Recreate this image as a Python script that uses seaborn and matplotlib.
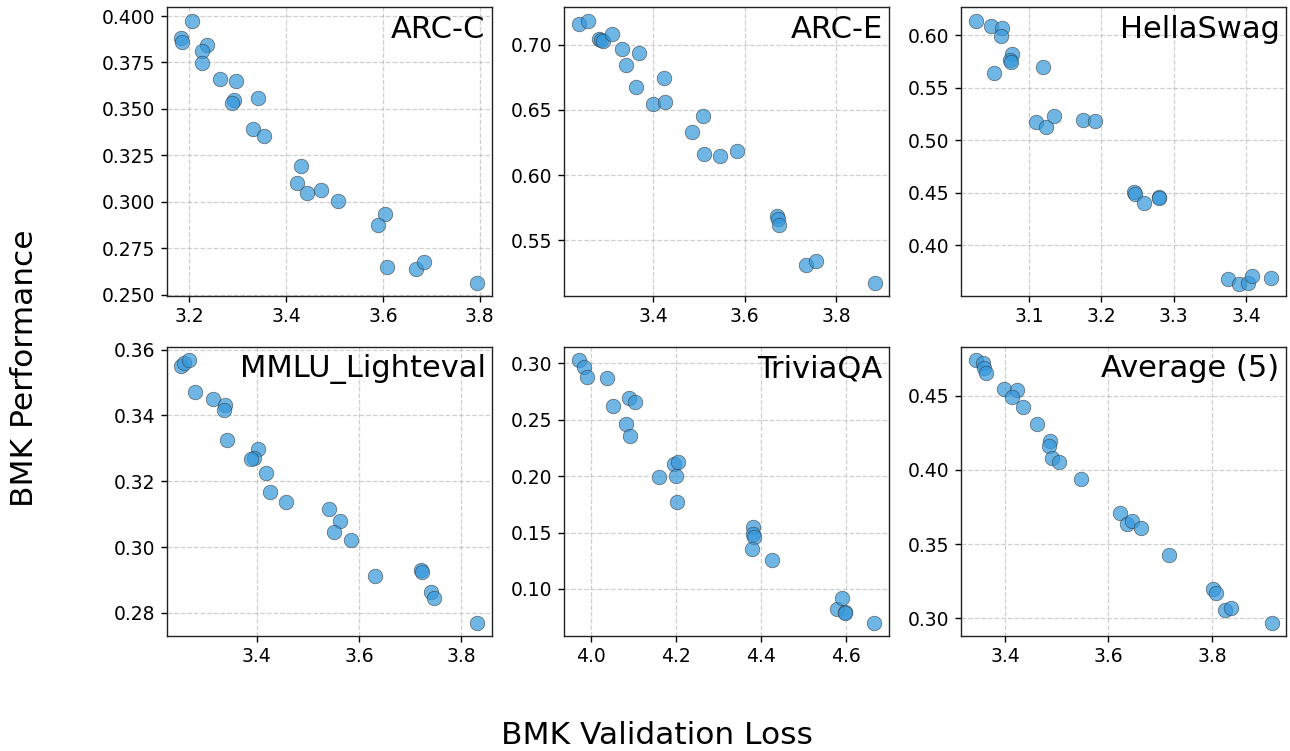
import matplotlib
matplotlib.use("Agg")
import matplotlib.pyplot as plt
import seaborn as sns
import pandas as pd

sns.set_style("ticks")
plt.rcParams['font.family'] = ['DejaVu Sans']
plt.rcParams['text.color'] = 'black'
plt.rcParams['xtick.color'] = 'black'
plt.rcParams['ytick.color'] = 'black'
plt.rcParams['xtick.labelcolor'] = 'black'
plt.rcParams['ytick.labelcolor'] = 'black'

titles = ["ARC-C", "ARC-E", "HellaSwag", "MMLU_Lighteval", "TriviaQA", "Average (5)"]

arcc_loss = [3.205, 3.183, 3.184, 3.237, 3.225, 3.226, 3.263, 3.297, 3.292, 3.288, 3.341, 3.332,
             3.355, 3.430, 3.423, 3.443, 3.473, 3.508, 3.605, 3.590, 3.608, 3.669, 3.685, 3.795]
arcc_perf = [0.3975, 0.3880, 0.3862, 0.3844, 0.3812, 0.3747, 0.3660, 0.3652, 0.3548, 0.3530, 0.3557, 0.3394,
             0.3353, 0.3190, 0.3099, 0.3047, 0.3066, 0.3005, 0.2937, 0.2875, 0.2647, 0.2638, 0.2674, 0.2561]

arce_loss = [3.238, 3.258, 3.281, 3.286, 3.290, 3.311, 3.333, 3.340, 3.370, 3.363, 3.399, 3.423,
             3.426, 3.510, 3.484, 3.512, 3.546, 3.583, 3.670, 3.674, 3.676, 3.735, 3.757, 3.884]
arce_perf = [0.7156, 0.7184, 0.7041, 0.7036, 0.7030, 0.7084, 0.6969, 0.6847, 0.6934, 0.6673, 0.6546, 0.6747,
             0.6561, 0.6452, 0.6329, 0.6161, 0.6143, 0.6181, 0.5689, 0.5666, 0.5617, 0.5309, 0.5344, 0.5171]

hella_loss = [3.026, 3.047, 3.063, 3.061, 3.077, 3.074, 3.075, 3.052, 3.119, 3.110, 3.124, 3.134,
              3.175, 3.191, 3.245, 3.246, 3.259, 3.280, 3.280, 3.375, 3.391, 3.403, 3.408, 3.435]
hella_perf = [0.6137, 0.6092, 0.6070, 0.5994, 0.5825, 0.5762, 0.5749, 0.5638, 0.5698, 0.5175, 0.5130, 0.5232,
              0.5190, 0.5184, 0.4502, 0.4489, 0.4403, 0.4457, 0.4451, 0.3673, 0.3632, 0.3638, 0.3705, 0.3683]

mmlu_loss = [3.252, 3.258, 3.268, 3.279, 3.314, 3.338, 3.336, 3.341, 3.402, 3.395, 3.389, 3.418,
             3.425, 3.457, 3.542, 3.563, 3.551, 3.585, 3.632, 3.722, 3.724, 3.741, 3.746, 3.831]
mmlu_perf = [0.3551, 0.3559, 0.3568, 0.3472, 0.3451, 0.3431, 0.3417, 0.3325, 0.3298, 0.3272, 0.3267, 0.3224,
             0.3168, 0.3137, 0.3115, 0.3078, 0.3046, 0.3021, 0.2912, 0.2932, 0.2925, 0.2865, 0.2846, 0.2769]

trivia_loss = [3.972, 3.984, 3.991, 4.038, 4.052, 4.090, 4.103, 4.083, 4.091, 4.196, 4.204, 4.201,
               4.160, 4.203, 4.382, 4.382, 4.385, 4.380, 4.427, 4.580, 4.592, 4.598, 4.599, 4.666]
trivia_perf = [0.3030, 0.2964, 0.2876, 0.2873, 0.2621, 0.2689, 0.2657, 0.2464, 0.2352, 0.2109, 0.2124, 0.1997,
               0.1988, 0.1775, 0.1550, 0.1485, 0.1464, 0.1358, 0.1257, 0.0822, 0.0917, 0.0796, 0.0790, 0.0695]

avg_loss = [3.343, 3.358, 3.359, 3.364, 3.398, 3.423, 3.414, 3.434, 3.461, 3.487, 3.486, 3.490,
            3.505, 3.546, 3.623, 3.635, 3.645, 3.662, 3.717, 3.803, 3.808, 3.825, 3.837, 3.916]
avg_perf = [0.4743, 0.4720, 0.4689, 0.4653, 0.4545, 0.4540, 0.4491, 0.4424, 0.4309, 0.4196, 0.4158, 0.4077,
            0.4050, 0.3936, 0.3711, 0.3637, 0.3654, 0.3609, 0.3425, 0.3198, 0.3169, 0.3056, 0.3068, 0.2969]

xticks = [[3.2, 3.4, 3.6, 3.8], [3.4, 3.6, 3.8], [3.1, 3.2, 3.3, 3.4],
          [3.4, 3.6, 3.8], [4.0, 4.2, 4.4, 4.6], [3.4, 3.6, 3.8]]
yticks = [[0.250, 0.275, 0.300, 0.325, 0.350, 0.375, 0.400],
          [0.55, 0.60, 0.65, 0.70],
          [0.40, 0.45, 0.50, 0.55, 0.60],
          [0.28, 0.30, 0.32, 0.34, 0.36],
          [0.10, 0.15, 0.20, 0.25, 0.30],
          [0.30, 0.35, 0.40, 0.45]]
yfmt = ["{:.3f}", "{:.2f}", "{:.2f}", "{:.2f}", "{:.2f}", "{:.2f}"]
xlims = [(3.153, 3.8255), (3.2044, 3.9156), (3.0054, 3.4553),
         (3.2238, 3.860), (3.9358, 4.7018), (3.3142, 3.9432)]
ylims = [(0.2491, 0.4047), (0.5071, 0.7286), (0.3511, 0.6267),
         (0.2730, 0.3608), (0.0583, 0.3145), (0.2881, 0.4828)]

series = [(arcc_loss, arcc_perf), (arce_loss, arce_perf), (hella_loss, hella_perf),
          (mmlu_loss, mmlu_perf), (trivia_loss, trivia_perf), (avg_loss, avg_perf)]

fig, axes = plt.subplots(2, 3, figsize=(12.9, 7.51), dpi=100)
fig.subplots_adjust(left=0.1292, right=0.9969, top=0.9903, bottom=0.1531, wspace=0.22, hspace=0.175)

for i, ax in enumerate(axes.flat):
    lx, py = series[i]
    df = pd.DataFrame({"loss": lx, "perf": py})
    sns.scatterplot(data=df, x="loss", y="perf", ax=ax, s=110, color="#3498db", alpha=0.7,
                    edgecolor="#333333", linewidth=0.5, zorder=3)
    ax.set_xlim(*xlims[i])
    ax.set_ylim(*ylims[i])
    ax.set_xticks(xticks[i])
    ax.set_xticklabels([f"{t:.1f}" for t in xticks[i]])
    ax.set_yticks(yticks[i])
    ax.set_yticklabels([yfmt[i].format(t) for t in yticks[i]])
    ax.tick_params(labelsize=13.5, length=4.5, width=1, color="black", labelcolor="black")
    ax.grid(True, linestyle="--", color="#b0b0b0", alpha=0.6, linewidth=0.9)
    ax.set_axisbelow(True)
    ax.set_xlabel("")
    ax.set_ylabel("")
    for sp in ax.spines.values():
        sp.set_color("#222222")
        sp.set_linewidth(1.0)
    ax.text(0.98, 0.975, titles[i], transform=ax.transAxes, ha="right", va="top",
            fontsize=22, color="black")

fig.text(0.019, 0.51, "BMK Performance", rotation=90, ha="center", va="center",
         fontsize=22.5, color="black")
fig.text(0.509, 0.021, "BMK Validation Loss", ha="center", va="center",
         fontsize=22.5, color="black")

fig.savefig("out.png", dpi=100)
